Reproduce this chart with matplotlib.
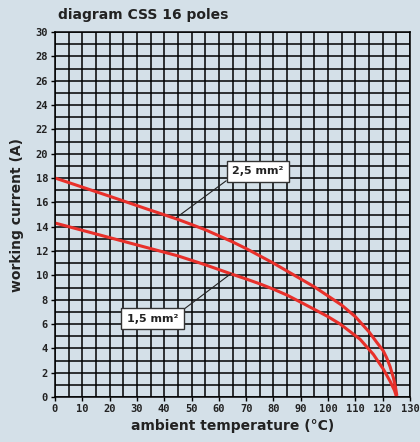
import matplotlib
matplotlib.use("Agg")
import matplotlib.pyplot as plt
import numpy as np

# Data
temp_25 = [0, 20, 33.7, 45, 55, 65, 70, 75, 80, 85, 90, 95, 100, 105, 110, 115, 117.8, 120.2, 121.5, 122.7, 123.9, 124.7, 125.2]
curr_25 = [18.0, 16.5, 15.45, 14.6, 13.75, 12.75, 12.2, 11.6, 11.0, 10.35, 9.7, 9.05, 8.3, 7.55, 6.6, 5.35, 4.5, 3.8, 3.2, 2.5, 1.6, 0.8, 0.1]
temp_15 = [0, 20, 35, 45, 55, 65, 70, 75, 80, 85, 90, 95, 100, 104.4, 111.7, 116.6, 120.2, 122.7, 124.3, 124.8, 125.0]
curr_15 = [14.3, 13.1, 12.2, 11.6, 10.87, 10.08, 9.7, 9.3, 8.86, 8.37, 7.79, 7.2, 6.6, 6.0, 4.75, 3.5, 2.3, 1.3, 0.55, 0.2, 0.0]

x_ticks = list(range(0, 131, 10))
y_ticks = list(range(0, 31, 2))
title = "diagram CSS 16 poles"
xlabel = "ambient temperature (°C)"
ylabel = "working current (A)"
labels = ["2,5 mm²", "1,5 mm²"]

bg = "#d4e0e8"
red = "#e8302a"

fig = plt.figure(figsize=(4.2, 4.42), dpi=100, facecolor=bg)
ax = fig.add_axes([55/420, 1 - 397/442, 355/420, 365/442], facecolor=bg)

ax.set_xlim(0, 130)
ax.set_ylim(0, 30)
ax.set_xticks(x_ticks)
ax.set_yticks(y_ticks)
ax.set_xticks(np.arange(0, 131, 5), minor=True)
ax.set_yticks(np.arange(0, 31, 1), minor=True)
ax.grid(which="both", color="black", lw=1.1)
ax.set_axisbelow(True)
for s in ax.spines.values():
    s.set_color("black")
    s.set_linewidth(1.1)

mono = dict(family="DejaVu Sans Mono", weight="bold", size=7.5, color="#222222")
ax.set_xticklabels([str(v) for v in x_ticks], **mono)
ax.set_yticklabels([str(v) for v in y_ticks], **mono)
ax.tick_params(which="major", length=3, width=1, color="black", pad=2)
ax.tick_params(which="minor", length=0)

ax.plot(temp_25, curr_25, color=red, lw=2.2, solid_capstyle="butt", solid_joinstyle="round")
ax.plot(temp_15, curr_15, color=red, lw=2.2, solid_capstyle="butt", solid_joinstyle="round")

box = dict(boxstyle="square,pad=0.5", fc="white", ec="#333333", lw=1)
ax.annotate(labels[0], xy=(44.5, 14.75), xytext=(74.3, 18.55),
            ha="center", va="center", fontsize=8, fontweight="bold", color="#222222",
            bbox=box, arrowprops=dict(arrowstyle="-", color="#222222", lw=0.8,
                                       shrinkA=0, shrinkB=0, relpos=(0, 0)))
ax.annotate(labels[1], xy=(64.5, 10.15), xytext=(35.7, 6.45),
            ha="center", va="center", fontsize=8, fontweight="bold", color="#222222",
            bbox=box, arrowprops=dict(arrowstyle="-", color="#222222", lw=0.8,
                                       shrinkA=0, shrinkB=0, relpos=(1, 1)))

fig.text(58/420, 1 - 15/442, title, ha="left", va="center",
         fontsize=10, fontweight="bold", color="#222222")
fig.text(232.5/420, 1 - 426/442, xlabel, ha="center", va="center",
         fontsize=10, fontweight="bold", color="#222222")
fig.text(17/420, 1 - 215/442, ylabel, ha="center", va="center", rotation=90,
         fontsize=10, fontweight="bold", color="#222222")

fig.savefig("out.png", dpi=100, facecolor=bg)
